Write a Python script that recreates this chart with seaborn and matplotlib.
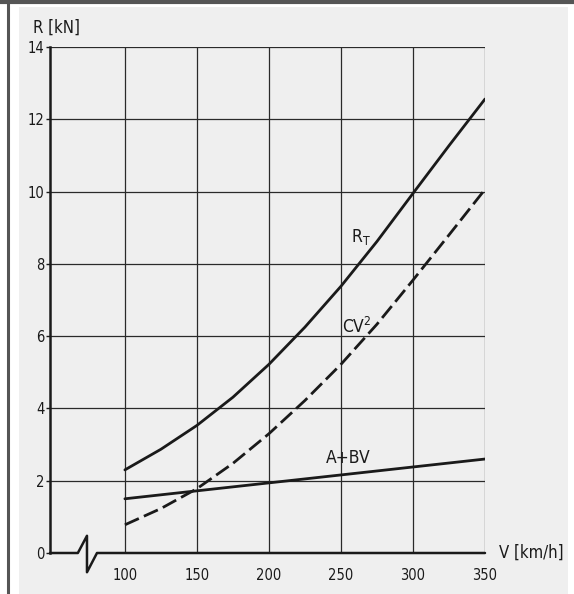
import matplotlib
matplotlib.use("Agg")
import matplotlib.pyplot as plt
from matplotlib.patches import Rectangle
from matplotlib.lines import Line2D
import seaborn as sns
import pandas as pd

# values (speed in km/h, resistance in kN)
speed = [100, 125, 150, 175, 200, 225, 250, 275, 300, 325, 350]
r_total = [2.3, 2.87, 3.53, 4.31, 5.22, 6.25, 7.38, 8.62, 9.95, 11.27, 12.56]
r_air = [0.78, 1.23, 1.78, 2.48, 3.3, 4.22, 5.22, 6.33, 7.55, 8.8, 10.06]
r_mech = [1.5, 1.61, 1.72, 1.83, 1.94, 2.05, 2.16, 2.27, 2.38, 2.49, 2.6]
x_ticks = [100, 150, 200, 250, 300, 350]
y_ticks = [0, 2, 4, 6, 8, 10, 12, 14]

df = pd.DataFrame({"V": speed, "RT": r_total, "CV2": r_air, "ABV": r_mech})

sns.set_style("white")
plt.rcParams["font.family"] = ["DejaVu Sans"]
plt.rcParams["font.stretch"] = "condensed"
ink = "#1a1a1a"

W, H = 574, 594
fig = plt.figure(figsize=(W / 100, H / 100), dpi=100)
fig.patch.set_facecolor("white")

# scanned page area and the frame lines
fig.patches.append(Rectangle((19 / W, 0), (568 - 19) / W, (H - 7) / H, transform=fig.transFigure,
                             facecolor="#efefef", edgecolor="none", zorder=-5))
fig.lines.append(Line2D([7.5 / W, 7.5 / W], [0, 1], transform=fig.transFigure, color="#555555", lw=2.2))
fig.lines.append(Line2D([0, 1], [1 - 1.5 / H, 1 - 1.5 / H], transform=fig.transFigure, color="#555555", lw=3))

ax = fig.add_axes([50 / W, 1 - 553 / H, 435 / W, 506 / H])
ax.set_facecolor("none")

sns.lineplot(data=df, x="V", y="RT", ax=ax, color=ink, lw=2.0)
sns.lineplot(data=df, x="V", y="ABV", ax=ax, color=ink, lw=2.0)
sns.lineplot(data=df, x="V", y="CV2", ax=ax, color=ink, lw=2.0, dashes=False,
             linestyle=(0, (5.5, 2.0)))

ax.set_xlim(48, 350)
ax.set_ylim(0, 14)
ax.set_xticks(x_ticks)
ax.set_yticks(y_ticks)
ax.set_xlabel("")
ax.set_ylabel("")

# grid
for v in x_ticks:
    ax.axvline(v, color="#2a2a2a", lw=0.9, zorder=0)
for r in y_ticks[1:]:
    ax.axhline(r, color="#2a2a2a", lw=0.9, zorder=0)

for s in ["top", "right", "bottom"]:
    ax.spines[s].set_visible(False)
ax.spines["left"].set_color(ink)
ax.spines["left"].set_linewidth(1.8)

# bottom axis with break symbol
brk_x = [0, 0.064, 0.085, 0.085, 0.108, 1.0]
brk_y = [0, 0, 0.034, -0.038, 0, 0]
ax.plot(brk_x, brk_y, transform=ax.transAxes, color=ink, lw=1.8, clip_on=False, zorder=5)

ax.tick_params(axis="y", left=True, length=3, width=1.0, color=ink, pad=1, labelsize=10.5, labelcolor=ink)
ax.tick_params(axis="x", bottom=False, pad=7, labelsize=10.5, labelcolor=ink)

# curve labels
ax.text(257, 8.6, r"$\mathregular{R_T}$", fontsize=12.5, color=ink, ha="left", va="baseline")
ax.text(250.5, 6.1, r"$\mathregular{CV^2}$", fontsize=12.5, color=ink, ha="left", va="baseline")
ax.text(239.5, 2.5, "A+BV", fontsize=12.5, color=ink, ha="left", va="baseline")

# axis titles
fig.text(33 / W, 1 - 33 / H, "R [kN]", fontsize=12, color=ink, ha="left", va="baseline")
fig.text(499 / W, 1 - 558 / H, "V [km/h]", fontsize=12, color=ink, ha="left", va="baseline")

fig.savefig("out.png", dpi=100)
plt.close(fig)
